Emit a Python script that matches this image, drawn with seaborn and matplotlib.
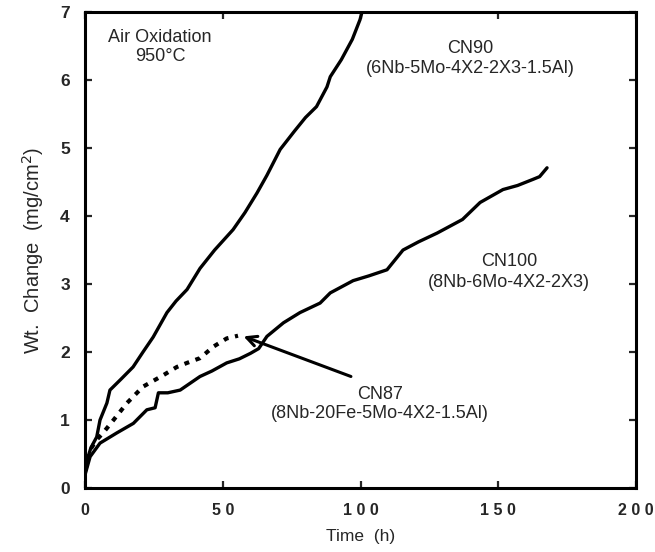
import matplotlib
matplotlib.use("Agg")
import matplotlib.pyplot as plt
import seaborn as sns

sns.set_theme(style="ticks")
plt.rcParams['font.family'] = ['Liberation Sans', 'DejaVu Sans']

# CN90 (6Nb-5Mo-4X2-2X3-1.5Al)
cn90_t = [0, 1, 2, 3, 4.2, 5.4, 7.9, 9, 13, 17.4, 21, 24.7, 29.7, 33, 37, 41.7, 47, 53.7, 58,
          62.4, 66, 70.8, 76, 80, 84, 87.8, 89, 93, 97, 99.8, 100.5]
cn90_w = [0.25, 0.45, 0.58, 0.66, 0.75, 1.0, 1.25, 1.44, 1.6, 1.78, 2.0, 2.22, 2.58, 2.75, 2.92,
          3.23, 3.5, 3.8, 4.05, 4.34, 4.6, 4.98, 5.25, 5.45, 5.61, 5.9, 6.05, 6.3, 6.6, 6.89, 7.0]

# CN87 (8Nb-20Fe-5Mo-4X2-1.5Al)
cn87_t = [0, 1.8, 4, 6.5, 10.3, 15.2, 21, 28.4, 33.3, 37, 41.7, 46.6, 51.4, 55.5]
cn87_w = [0.25, 0.56, 0.7, 0.81, 1.0, 1.25, 1.49, 1.66, 1.78, 1.84, 1.91, 2.08, 2.2, 2.24]

# CN100 (8Nb-6Mo-4X2-2X3)
cn100_t = [0, 1.8, 5.4, 11.5, 17.5, 22.4, 25.4, 26.6, 30, 34.5, 41.7, 46, 51.4, 56, 60, 63, 66,
           72, 78, 85.3, 89, 97.3, 103, 109.6, 115.4, 121, 127.8, 137, 143.4, 151.7, 157,
           162.6, 165, 167.7]
cn100_w = [0.2, 0.46, 0.66, 0.81, 0.95, 1.15, 1.18, 1.4, 1.4, 1.44, 1.64, 1.72, 1.84, 1.9, 1.98,
           2.05, 2.23, 2.43, 2.58, 2.72, 2.87, 3.05, 3.12, 3.21, 3.5, 3.62, 3.75, 3.95, 4.2,
           4.39, 4.45, 4.54, 4.58, 4.71]

x_ticks = [0, 50, 100, 150, 200]
x_tick_labels = ["0", "5 0", "1 0 0", "1 5 0", "2 0 0"]
y_ticks = [0, 1, 2, 3, 4, 5, 6, 7]

fig = plt.figure(figsize=(6.55, 5.52), dpi=100)
ax = fig.add_axes([0.13, 0.116, 0.841, 0.862])

sns.lineplot(x=cn90_t, y=cn90_w, ax=ax, color="black", linewidth=2.4, sort=False)
sns.lineplot(x=cn100_t, y=cn100_w, ax=ax, color="black", linewidth=2.4, sort=False)
sns.lineplot(x=cn87_t, y=cn87_w, ax=ax, color="black", linewidth=3.0, sort=False,
             linestyle=(0, (1.2, 1.6)))

ax.set_xlim(0, 200)
ax.set_ylim(0, 7)
ax.set_xticks(x_ticks)
ax.set_xticklabels(x_tick_labels, fontsize=11.5, fontweight="bold")
ax.set_yticks(y_ticks)
ax.set_yticklabels([str(v) for v in y_ticks], fontsize=12.5, fontweight="bold")
ax.tick_params(direction="in", length=5, width=1.6, top=True, right=True, pad=11)
for s in ax.spines.values():
    s.set_linewidth(2.2)
    s.set_color("black")

ax.set_xlabel("Time  (h)", fontsize=12.5, labelpad=8)
ax.set_ylabel("Wt.  Change  (mg/cm$^2$)", fontsize=14.5, labelpad=10)

fs = 13
ax.text(27.2, 6.63, "Air Oxidation", ha="center", va="center", fontsize=fs)
ax.text(27.2, 6.35, "950°C", ha="center", va="center", fontsize=fs)
ax.text(139.7, 6.47, "CN90", ha="center", va="center", fontsize=fs)
ax.text(139.7, 6.17, "(6Nb-5Mo-4X2-2X3-1.5Al)", ha="center", va="center", fontsize=fs)
ax.text(154, 3.33, "CN100", ha="center", va="center", fontsize=fs)
ax.text(154, 3.02, "(8Nb-6Mo-4X2-2X3)", ha="center", va="center", fontsize=fs)
ax.text(107, 1.37, "CN87", ha="center", va="center", fontsize=fs)
ax.text(107, 1.09, "(8Nb-20Fe-5Mo-4X2-1.5Al)", ha="center", va="center", fontsize=fs)

ax.annotate("", xy=(57.5, 2.23), xytext=(96.5, 1.64),
            arrowprops=dict(arrowstyle="->,head_length=0.6,head_width=0.3", color="black",
                            lw=2.2, shrinkA=0, shrinkB=0))

fig.savefig("out.png", dpi=100)
